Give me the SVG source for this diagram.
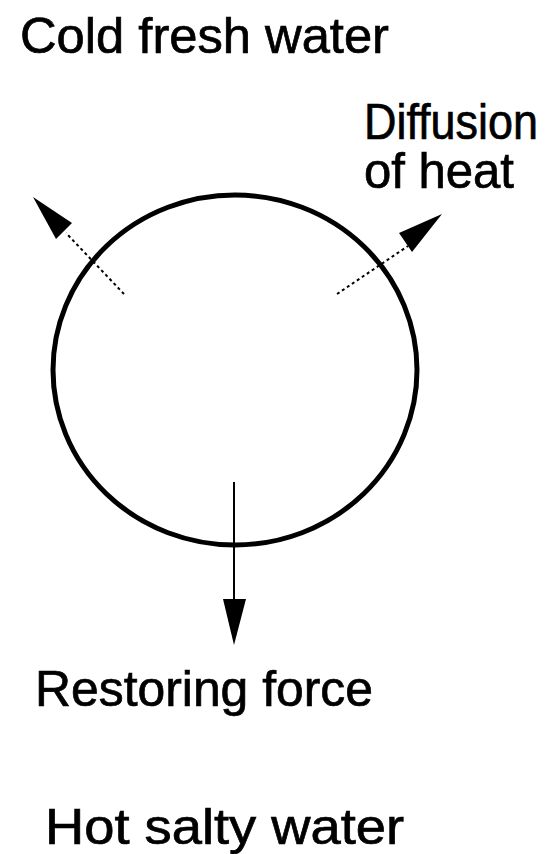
<svg xmlns="http://www.w3.org/2000/svg" width="551" height="854" viewBox="0 0 551 854">
<style>
text{font-family:"Liberation Sans",Arial,sans-serif;font-size:50px;fill:#000;stroke:#000;stroke-width:0.7}
.dot{stroke:#000;stroke-width:2;stroke-dasharray:3,3;fill:none}
</style>
<rect width="551" height="854" fill="#fff"/>
<g id="labels">
<text x="20" y="53" textLength="369" lengthAdjust="spacingAndGlyphs">Cold fresh water</text>
<text x="364" y="139" textLength="174" lengthAdjust="spacingAndGlyphs">Diffusion</text>
<text x="364" y="188" textLength="150" lengthAdjust="spacingAndGlyphs">of heat</text>
<text x="35" y="706" textLength="338" lengthAdjust="spacingAndGlyphs">Restoring force</text>
<text x="45" y="844" textLength="359" lengthAdjust="spacingAndGlyphs">Hot salty water</text>
</g>
<g id="parcel">
<ellipse cx="235" cy="370" rx="182" ry="175" fill="none" stroke="#000" stroke-width="5"/>
</g>
<g id="connectors">
<line class="dot" x1="124" y1="294" x2="66" y2="233"/>
<polygon points="33,197 72,223 56,239"/>
<line class="dot" x1="337" y1="294" x2="408" y2="246"/>
<polygon points="442,214 399,233 412,252"/>
<line x1="234" y1="482" x2="234" y2="602" stroke="#000" stroke-width="2"/>
<polygon points="234,645 223,599 246,599"/>
</g>
</svg>
